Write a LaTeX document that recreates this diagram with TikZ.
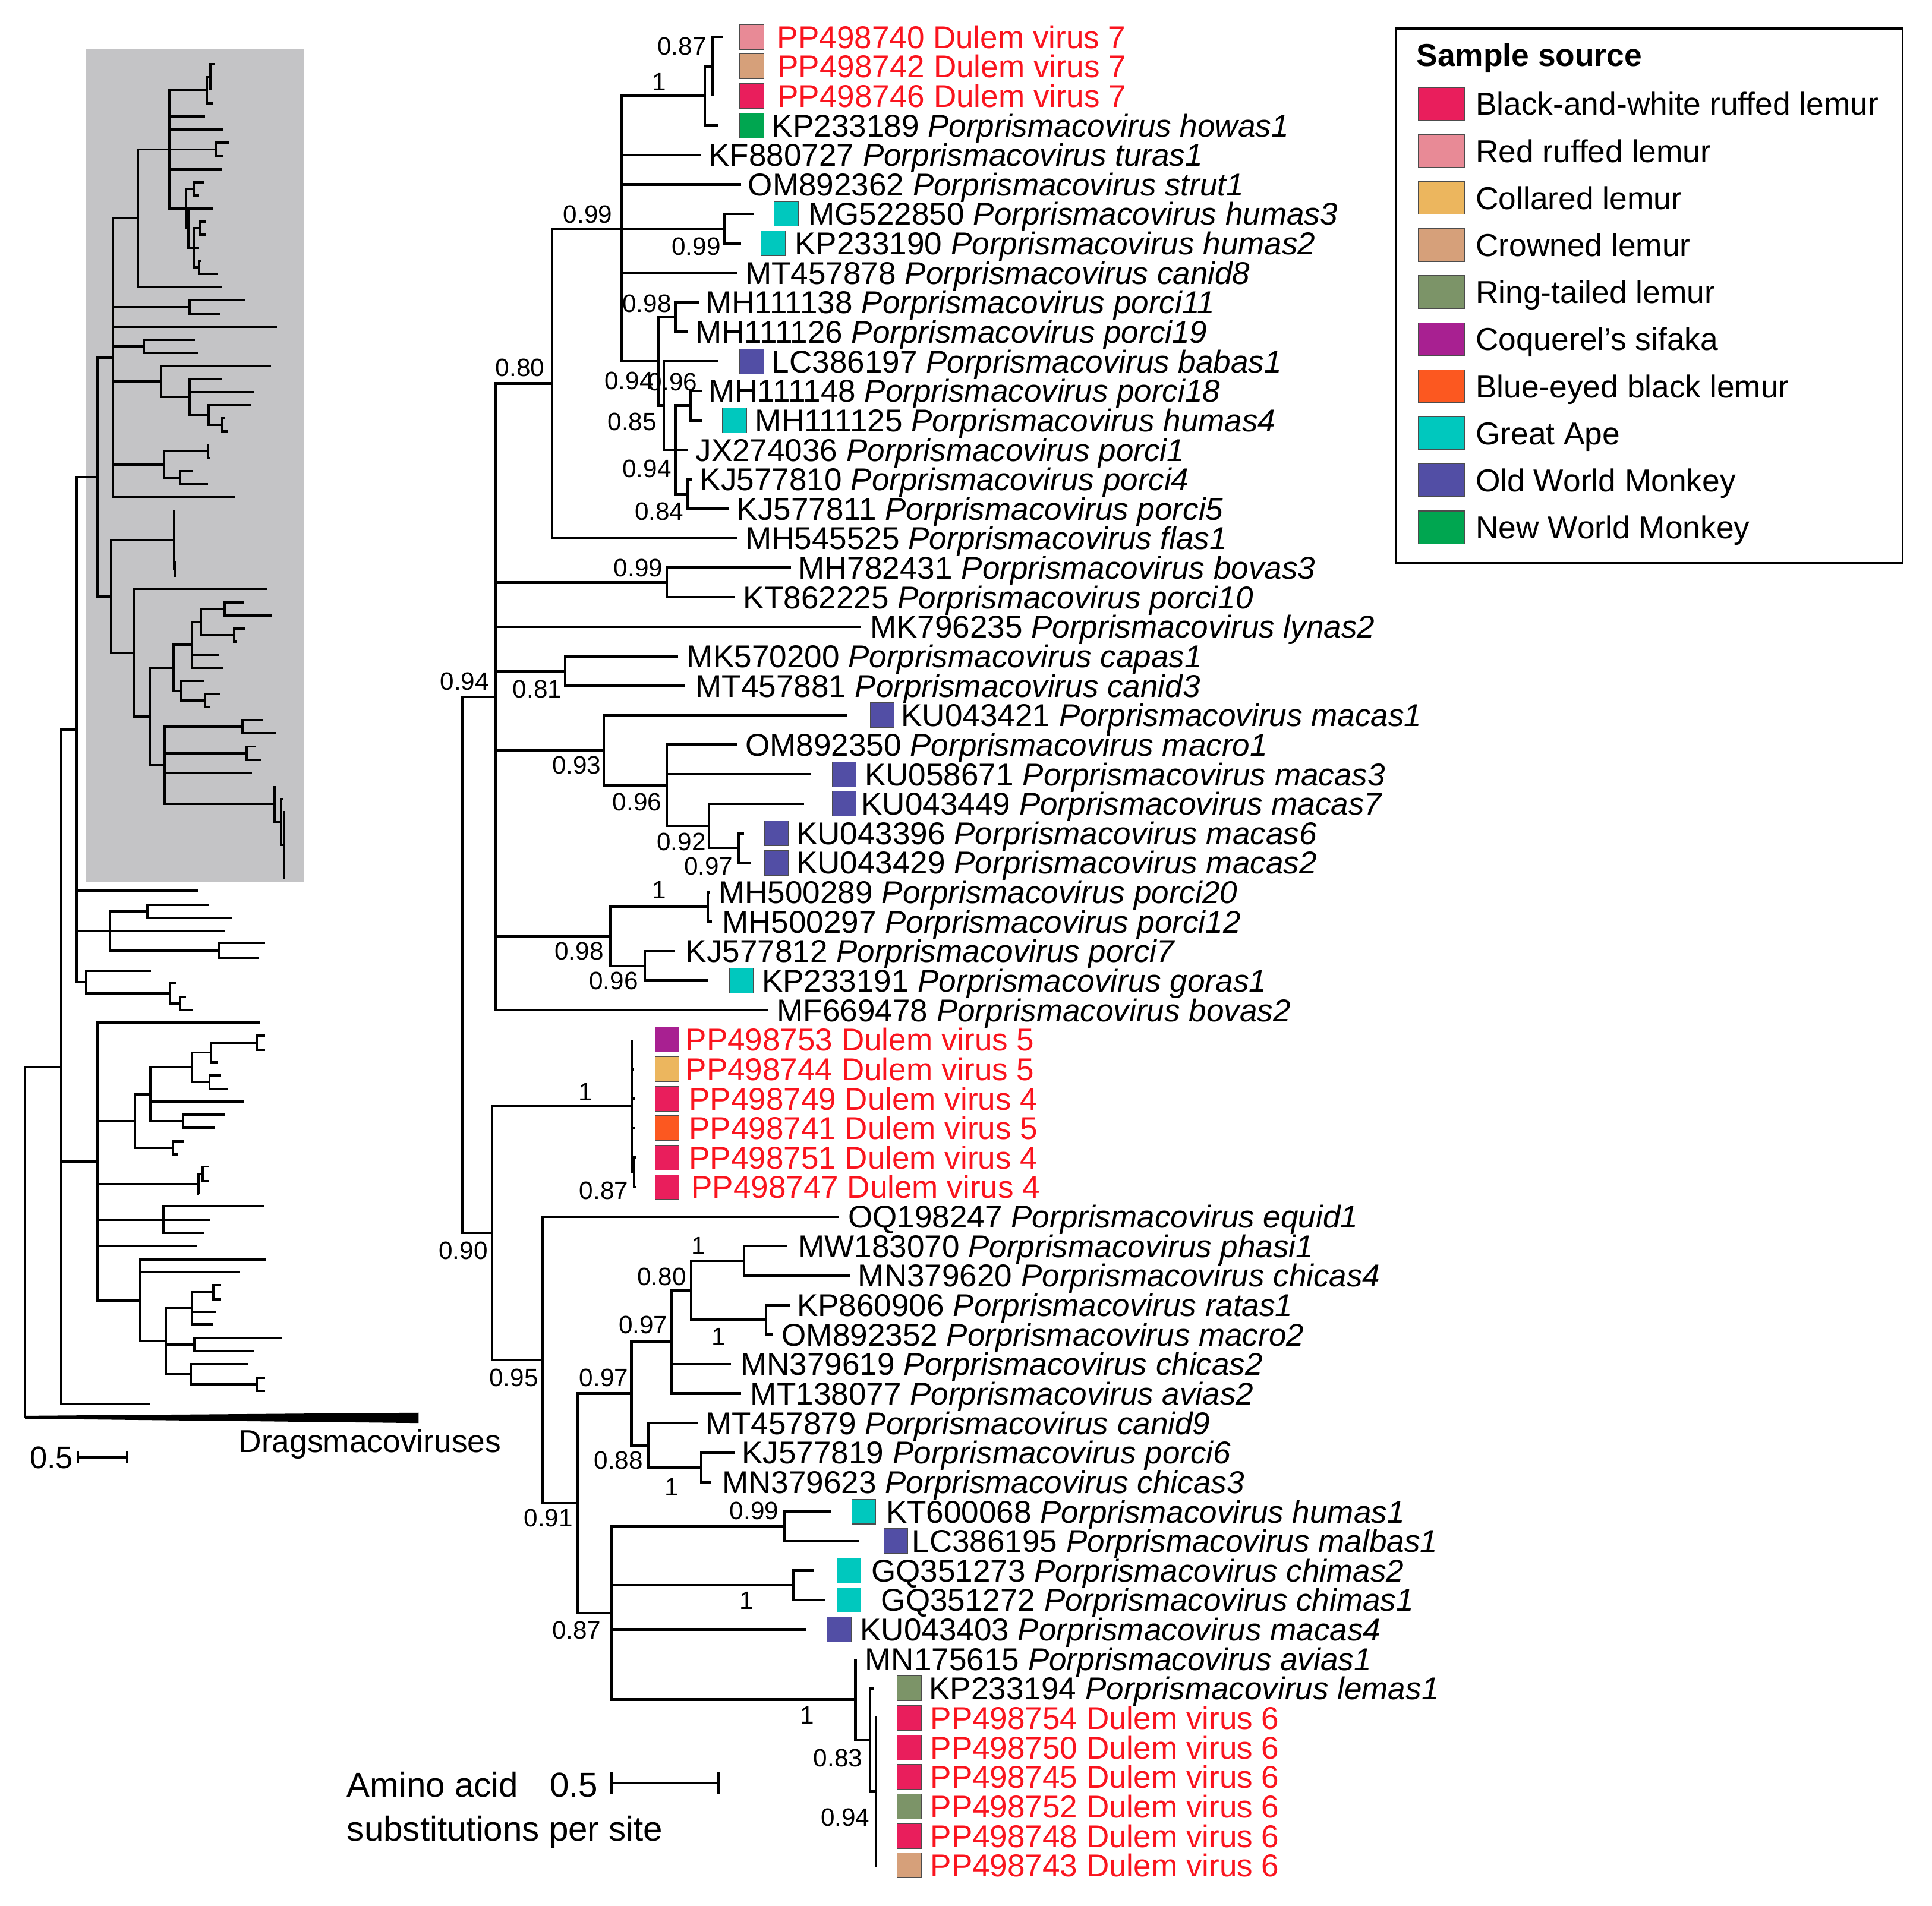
\documentclass[tikz,border=0pt]{standalone}
\usepackage{fontspec}
\setmainfont{Liberation Sans}
\definecolor{bw}{RGB}{233,30,92}
\definecolor{rr}{RGB}{232,138,150}
\definecolor{cl}{RGB}{236,182,94}
\definecolor{cr}{RGB}{214,160,122}
\definecolor{rt}{RGB}{124,148,104}
\definecolor{cs}{RGB}{168,32,145}
\definecolor{be}{RGB}{252,88,32}
\definecolor{ga}{RGB}{0,200,190}
\definecolor{ow}{RGB}{82,78,165}
\definecolor{nw}{RGB}{0,166,80}
\definecolor{dvred}{RGB}{250,20,30}
\definecolor{boxgray}{RGB}{196,196,198}
\newcommand{\tipfont}{\fontsize{36.4}{44}\selectfont}
\newcommand{\supfont}{\fontsize{29}{35}\selectfont}
\newcommand{\sclfont}{\fontsize{40}{48}\selectfont}
\newcommand{\Pv}{\textit{Porprismacovirus}}
\tikzset{
 br/.style={line width=1.05mm},
 lbr/.style={line width=0.95mm},
 tip/.style={anchor=west, inner sep=0pt, text height=26pt, text depth=0pt, font=\tipfont},
 dv/.style={tip, text=dvred},
 sup/.style={anchor=center, inner sep=0pt, text height=20.8pt, text depth=0pt, font=\supfont},
 sq/.style={draw=black!70, line width=0.25mm, minimum width=9.8mm, minimum height=10.1mm, inner sep=0pt, anchor=west},
 lsq/.style={draw=black!70, line width=0.3mm, minimum width=18.7mm, minimum height=13.35mm, inner sep=0pt, anchor=west},
 leg/.style={anchor=west, inner sep=0pt, text height=26.2pt, text depth=0pt, font=\fontsize{36.6}{44}\selectfont},
}
\newcommand{\treecoords}[1]{%
\foreach \n/\xx/\rr in {E/578.4/2, D/572/3, H/587.9/7.5, Q/548.2/10.5, T/560.3/13.5, U/557.8/16.5, S/548.2/15, R/538.6/13.5, P/534.5/12, A/504.5/7.5, B/448/12.75, BV/541/19.5, CC/458.7/22.5, M4/599.8/28.5, M3/575.5/27.75, M2/541.1/26.375, M1/490/25.1875, PC/574.4/30.5, PG/523.3/32.5, PP/495.3/31.5, C/402.2/23.375, G1/514.5/39.5, G/512.6/37.25, Ya/604/42.5, Yb/621.8/44.5, Y9/561/43.5, Y6/544.9/45.25, Y8/569/49.5, Y7/526/48.75, Y4/512.5/47, Yc/636.5/51.5, Yd/644.2/53.5, X/711/60.5, W/706/58.75, V/694.2/57.375, Y5/496.1/54.4375, Y3/469/50.71875, Y2/440.5/45.859375, Y/399.5/41.5546875, Z/375.3/32.46484375}
  {\coordinate (#1-\n) at (\xx,\rr);}
\foreach \rr/\xx in {1/587, 2/578.4, 3/578.4, 4/582.6, 5/569, 6/601.4, 7/611.9, 8/601.4, 9/598.7, 10/567.5, 11/557.8, 12/582.8, 13/569.9, 14/569.9, 15/557.8, 16/561.9, 17/591.6, 18/598.7, 19/641.8, 20/596, 21/698.3, 22/550.2, 23/555.6, 24/687.5, 25/598.7, 26/657.9, 27/652.5, 28/604, 29/609.5, 30/576, 31/578, 32/547.5, 33/574.4, 34/622.9, 35/512.6, 36/514, 37/515, 38/515, 39/516, 40/516, 41/681, 42/639, 43/690.2, 44/641.7, 45/627, 46/593.3, 47/601.4, 48/566.4, 49/596, 50/577, 51/674.2, 52/697, 53/661, 54/670, 55/653.8, 56/694.2, 57/708.9, 58/712, 59/712, 60/712, 61/712, 62/712, 63/712}
  {\coordinate (#1-l\rr) at (\xx,\rr);}
}
\newcommand{\treeedges}[2]{%
\foreach \p/\c in {E/l1,E/l2,E/l3,D/E,D/l4,A/D,A/l5,A/l6,A/H,A/l9,A/P,H/l7,H/l8,P/Q,P/R,Q/l10,Q/l11,R/l12,R/S,S/T,S/l15,S/U,T/l13,T/l14,U/l16,U/l17,B/A,B/l18,C/B,C/BV,C/l21,C/CC,C/M1,C/PP,C/l34,BV/l19,BV/l20,CC/l22,CC/l23,M1/l24,M1/M2,M2/l25,M2/l26,M2/M3,M3/l27,M3/M4,M4/l28,M4/l29,PP/PC,PP/PG,PC/l30,PC/l31,PG/l32,PG/l33,Z/C,Z/Y,Y/G,Y/Y2,G/l35,G/l36,G/l37,G/l38,G/G1,G1/l39,G1/l40,Y2/l41,Y2/Y3,Y3/Y4,Y3/Y5,Y4/Y6,Y4/Y7,Y6/Y9,Y6/l46,Y6/l47,Y9/Ya,Y9/Yb,Ya/l42,Ya/l43,Yb/l44,Yb/l45,Y7/l48,Y7/Y8,Y8/l49,Y8/l50,Y5/Yc,Y5/Yd,Y5/l55,Y5/V,Yc/l51,Yc/l52,Yd/l53,Yd/l54,V/l56,V/W,W/l57,W/X,X/l58,X/l59,X/l60,X/l61,X/l62,X/l63}
  {\draw[#2] (#1-\p) |- (#1-\c);}
}
\begin{document}
\begin{tikzpicture}[x=0.5mm,y=-0.5mm]
\useasboundingbox (0,0) rectangle (1568,1547);
% ---------- left overview tree ----------
\fill[boxgray] (69.8,40.1) rectangle (246.9,716.1);
\begin{scope}[xshift=-44.79mm, yshift=-20.7mm, x=0.225mm, y=-5.3265mm]
\treecoords{g}
\treeedges{g}{lbr}
\end{scope}
\foreach \n/\xx/\yy in {R0/20.3/1008.1, N1/49.6/866.1, N2/62/592.35, N3/79.3/943.05, N4/69.8/797.15, N5/89.3/755.8, N6/119.6/740.05, N7/177.3/771.55, N8/138/806.4, N9/146.1/814.5, N10/109.6/910, N14/121.8/888.3, N15/155.6/866.4, N16/171/854.4, N17/208.4/846.5, N18/170/878.5, N19/148.3/910.1, N20/140.2/931.7, N11/161/961.1, N21/164.3/952.8, N12/132.6/989.95, N13/113.7/1055.75, N22/134.5/1088.7, N23/155.6/1062, N24/173.2/1048.9, N25/157.8/1091.4, N26/154.8/1115.6, N27/208.4/1123.8, o1/121.8/1139.8, o2/161/723.2, o3/182.7/755.6, o4/169.1/734.7, o5/188.1/745.4, o6/215.2/765.4, o7/209.7/777.7, o8/122.6/787.9, o9/142.9/798.3, o10/151/809.1, o11/156.4/819.9, o12/210.6/830, o13/160.2/1011.5, o14/215.2/840.8, o15/215.2/852.2, o16/176.5/862.3, o17/179.2/873.1, o18/184.8/883.9, o19/198.4/894, o20/182.1/904.8, o21/174.6/915.5, o22/148.8/926.3, o23/144.8/937.1, o24/169.1/947, o25/169.1/958.6, o26/161.5/969.4, o27/214.6/979.2, o28/170.5/990, o29/165.9/1000.7, o30/215.7/1022.3, o31/194.9/1032.4, o32/179.2/1043.2, o33/179.2/1054.6, o34/175.1/1064.9, o35/173.2/1075.2, o36/228.7/1086, o37/206.2/1096.7, o38/201.6/1107.5, o39/215.2/1118.3, o40/215.2/1129.3, dw/60/1150.5}
  {\coordinate (\n) at (\xx,\yy);}
\foreach \p/\c in {R0/N1,R0/dw,N1/N2,N1/N3,N1/o1,N2/g-Z,N2/o2,N2/N5,N2/N4,N5/N6,N5/o3,N5/N7,N6/o4,N6/o5,N7/o6,N7/o7,N4/o8,N4/N8,N8/o9,N8/N9,N9/o10,N9/o11,N3/o12,N3/N10,N3/N11,N3/N12,N3/o13,N3/N13,N10/N14,N10/N20,N14/N15,N14/o19,N14/N19,N15/N16,N15/N18,N16/N17,N16/o16,N17/o14,N17/o15,N18/o17,N18/o18,N19/o20,N19/o21,N20/o22,N20/o23,N11/N21,N11/o26,N21/o24,N21/o25,N12/o27,N12/o28,N12/o29,N13/o30,N13/o31,N13/N22,N22/N23,N22/N25,N22/N26,N23/N24,N23/o34,N23/o35,N24/o32,N24/o33,N25/o36,N25/o37,N26/o38,N26/N27,N27/o39,N27/o40}
  {\draw[lbr] (\p) |- (\c);}
\fill (20.3,1149.3) -- (339.7,1146.8) -- (339.7,1155.2) -- (20.3,1151.7) -- cycle;
\node[anchor=west, inner sep=0pt, text height=26.2pt, text depth=0pt, font=\fontsize{36.6}{44}\selectfont] (drag) at (193.5,1170) {Dragsmacoviruses};
\node[anchor=west, inner sep=0pt, text height=25.6pt, text depth=0pt, font=\fontsize{36}{43}\selectfont] (lsc) at (24,1183) {0.5};
\coordinate (lsa) at (63,1183); \coordinate (lsb) at (103,1183);
\draw[lbr] (lsa) -- (lsb);
\draw[lbr] ([yshift=2.5mm]lsa) -- ([yshift=-2.5mm]lsa);
\draw[lbr] ([yshift=2.5mm]lsb) -- ([yshift=-2.5mm]lsb);
% ---------- main tree ----------
\begin{scope}[yshift=-3.03mm, y=-11.97mm]
\treecoords{m}
\treeedges{m}{br}
% squares
\foreach \rr/\xx/\cc in {1/600/rr, 2/600/cr, 3/600/bw, 4/600/nw, 7/628/ga, 8/617.5/ga, 12/600/ow, 14/586/ga, 24/706/ow, 26/675/ow, 27/675/ow, 28/620/ow, 29/620/ow, 33/591.7/ga, 35/531.4/cs, 36/531.4/cl, 37/531.4/bw, 38/531.4/be, 39/531.4/bw, 40/531.4/bw, 51/691/ga, 52/717/ow, 53/679/ga, 54/679/ga, 55/671/ow, 57/728/rt, 58/728/bw, 59/728/bw, 60/728/bw, 61/728/rt, 62/728/bw, 63/728/cr}
  {\node[sq, fill=\cc] (sq\rr) at (\xx,\rr) {};}
% tip labels
\node[dv] (t1) at (630.6,1) {PP498740 Dulem virus 7};
\node[dv] (t2) at (631,2) {PP498742 Dulem virus 7};
\node[dv] (t3) at (631,3) {PP498746 Dulem virus 7};
\node[tip] (t4) at (626.3,4) {KP233189 \Pv\ \textit{howas1}};
\node[tip] (t5) at (575,5) {KF880727 \Pv\ \textit{turas1}};
\node[tip] (t6) at (607,6) {OM892362 \Pv\ \textit{strut1}};
\node[tip] (t7) at (656,7) {MG522850 \Pv\ \textit{humas3}};
\node[tip] (t8) at (645,8) {KP233190 \Pv\ \textit{humas2}};
\node[tip] (t9) at (604.8,9) {MT457878 \Pv\ \textit{canid8}};
\node[tip] (t10) at (572.5,10) {MH111138 \Pv\ \textit{porci11}};
\node[tip] (t11) at (564.4,11) {MH111126 \Pv\ \textit{porci19}};
\node[tip] (t12) at (626.3,12) {LC386197 \Pv\ \textit{babas1}};
\node[tip] (t13) at (575,13) {MH111148 \Pv\ \textit{porci18}};
\node[tip] (t14) at (612.8,14) {MH111125 \Pv\ \textit{humas4}};
\node[tip] (t15) at (564.4,15) {JX274036 \Pv\ \textit{porci1}};
\node[tip] (t16) at (568,16) {KJ577810 \Pv\ \textit{porci4}};
\node[tip] (t17) at (597.8,17) {KJ577811 \Pv\ \textit{porci5}};
\node[tip] (t18) at (604.8,18) {MH545525 \Pv\ \textit{flas1}};
\node[tip] (t19) at (647.8,19) {MH782431 \Pv\ \textit{bovas3}};
\node[tip] (t20) at (603.1,20) {KT862225 \Pv\ \textit{porci10}};
\node[tip] (t21) at (706,21) {MK796235 \Pv\ \textit{lynas2}};
\node[tip] (t22) at (557.4,22) {MK570200 \Pv\ \textit{capas1}};
\node[tip] (t23) at (564.4,23) {MT457881 \Pv\ \textit{canid3}};
\node[tip] (t24) at (731.3,24) {KU043421 \Pv\ \textit{macas1}};
\node[tip] (t25) at (604.8,25) {OM892350 \Pv\ \textit{macro1}};
\node[tip] (t26) at (701.7,26) {KU058671 \Pv\ \textit{macas3}};
\node[tip] (t27) at (699,27) {KU043449 \Pv\ \textit{macas7}};
\node[tip] (t28) at (646.2,28) {KU043396 \Pv\ \textit{macas6}};
\node[tip] (t29) at (646.2,29) {KU043429 \Pv\ \textit{macas2}};
\node[tip] (t30) at (583.2,30) {MH500289 \Pv\ \textit{porci20}};
\node[tip] (t31) at (585.9,31) {MH500297 \Pv\ \textit{porci12}};
\node[tip] (t32) at (556.3,32) {KJ577812 \Pv\ \textit{porci7}};
\node[tip] (t33) at (618.2,33) {KP233191 \Pv\ \textit{goras1}};
\node[tip] (t34) at (630.6,34) {MF669478 \Pv\ \textit{bovas2}};
\node[dv] (t35) at (556.3,35) {PP498753 Dulem virus 5};
\node[dv] (t36) at (556.3,36) {PP498744 Dulem virus 5};
\node[dv] (t37) at (559,37) {PP498749 Dulem virus 4};
\node[dv] (t38) at (559,38) {PP498741 Dulem virus 5};
\node[dv] (t39) at (559,39) {PP498751 Dulem virus 4};
\node[dv] (t40) at (561,40) {PP498747 Dulem virus 4};
\node[tip] (t41) at (688.2,41) {OQ198247 \Pv\ \textit{equid1}};
\node[tip] (t42) at (647.8,42) {MW183070 \Pv\ \textit{phasi1}};
\node[tip] (t43) at (696.3,43) {MN379620 \Pv\ \textit{chicas4}};
\node[tip] (t44) at (646.7,44) {KP860906 \Pv\ \textit{ratas1}};
\node[tip] (t45) at (634.4,45) {OM892352 \Pv\ \textit{macro2}};
\node[tip] (t46) at (601,46) {MN379619 \Pv\ \textit{chicas2}};
\node[tip] (t47) at (609,47) {MT138077 \Pv\ \textit{avias2}};
\node[tip] (t48) at (572.5,48) {MT457879 \Pv\ \textit{canid9}};
\node[tip] (t49) at (602,49) {KJ577819 \Pv\ \textit{porci6}};
\node[tip] (t50) at (586,50) {MN379623 \Pv\ \textit{chicas3}};
\node[tip] (t51) at (719,51) {KT600068 \Pv\ \textit{humas1}};
\node[tip] (t52) at (740,52) {LC386195 \Pv\ \textit{malbas1}};
\node[tip] (t53) at (707,53) {GQ351273 \Pv\ \textit{chimas2}};
\node[tip] (t54) at (715,54) {GQ351272 \Pv\ \textit{chimas1}};
\node[tip] (t55) at (698,55) {KU043403 \Pv\ \textit{macas4}};
\node[tip] (t56) at (702,56) {MN175615 \Pv\ \textit{avias1}};
\node[tip] (t57) at (754,57) {KP233194 \Pv\ \textit{lemas1}};
\node[dv] (t58) at (755,58) {PP498754 Dulem virus 6};
\node[dv] (t59) at (755,59) {PP498750 Dulem virus 6};
\node[dv] (t60) at (755,60) {PP498745 Dulem virus 6};
\node[dv] (t61) at (755,61) {PP498752 Dulem virus 6};
\node[dv] (t62) at (755,62) {PP498748 Dulem virus 6};
\node[dv] (t63) at (755,63) {PP498743 Dulem virus 6};
\end{scope}
% support values
\foreach \t/\xx/\yy [count=\k] in {0.87/553.5/37.5, 1/535/66, 0.99/477/174, 0.99/565/200, 0.98/525/246, 0.80/422/298, 0.94/510.5/309, 0.96/546/310, 0.85/513/342, 0.94/525/380, 0.84/535/415, 0.99/518/461, 0.94/377/553, 0.81/436/559, 0.93/468/621, 0.96/517/651, 0.92/553/683, 0.97/575/703, 1/535/722, 0.98/470/772, 0.96/498/796, 1/475/886, 0.87/490/966, 0.90/376/1015, 1/567/1011, 0.80/537/1036, 0.97/522/1075, 1/583/1085, 0.95/417/1118, 0.97/490/1118, 0.88/502/1185, 1/545/1207, 0.99/612/1226, 0.91/445/1232, 1/606/1299, 0.87/468/1323, 1/655/1392, 0.83/680/1427, 0.94/686/1475}
  {\node[sup] (bs\k) at (\xx,\yy) {\t};}
% main scale bar
\node[anchor=west, inner sep=0pt, text height=28.6pt, text depth=0pt, font=\sclfont] (aa) at (281.5,1448.5) {Amino acid};
\node[anchor=west, inner sep=0pt, text height=28.6pt, text depth=0pt, font=\sclfont] (sps) at (281.5,1484.4) {substitutions per site};
\node[anchor=west, inner sep=0pt, text height=28.6pt, text depth=0pt, font=\sclfont] (sc5) at (446,1448.5) {0.5};
\coordinate (msa) at (496,1447.4); \coordinate (msb) at (583,1447.4);
\draw[br] (msa) -- (msb);
\draw[br] ([yshift=4.4mm]msa) -- ([yshift=-4.4mm]msa);
\draw[br] ([yshift=4.4mm]msb) -- ([yshift=-4.4mm]msb);
% legend
\draw[line width=0.85mm] (1132.7,23.1) rectangle (1544.1,457);
\node[leg, font=\fontsize{36.6}{44}\selectfont\bfseries] (legt) at (1149.5,44.6) {Sample source};
\foreach \cc/\tt [count=\k from 0] in {bw/Black-and-white ruffed lemur, rr/Red ruffed lemur, cl/Collared lemur, cr/Crowned lemur, rt/Ring-tailed lemur, cs/Coquerel’s sifaka, be/Blue-eyed black lemur, ga/Great Ape, ow/Old World Monkey, nw/New World Monkey}
  {\node[lsq, fill=\cc] (lq\k) at (1150.7,84.3+38.2*\k) {};
   \node[leg] (lt\k) at (1197.5,84.3+38.2*\k) {\tt};}
\end{tikzpicture}
\end{document}
